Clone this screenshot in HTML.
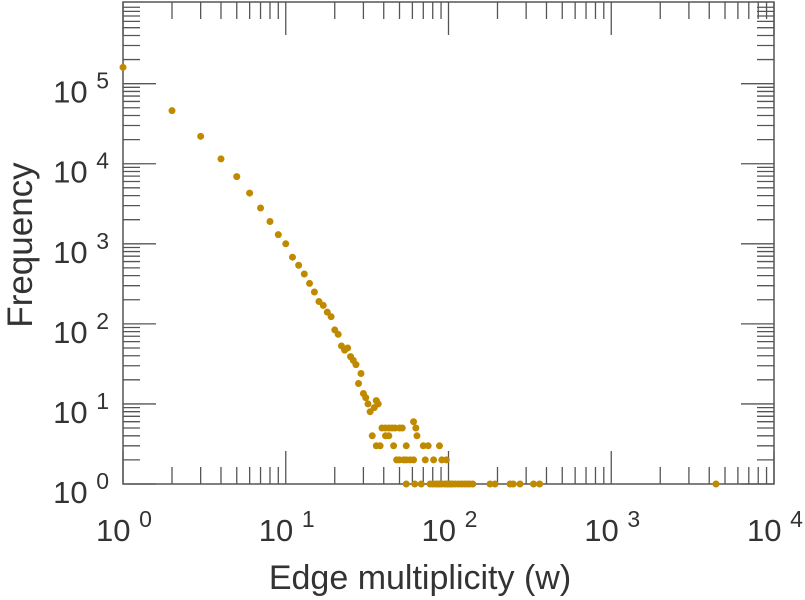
<!DOCTYPE html>
<html><head><meta charset="utf-8"><style>
html,body{margin:0;padding:0;background:#fff;}
svg{display:block;font-family:"Liberation Sans",sans-serif;}
</style></head><body>
<svg id="chart" width="805" height="600" viewBox="0 0 805 600" xmlns="http://www.w3.org/2000/svg">
<g id="axes"></g>
<g id="points"></g>
<text x="420" y="589" font-size="34" text-anchor="middle" fill="#333">Edge multiplicity (w)</text>
<text transform="translate(32,245) rotate(-90)" font-size="35" text-anchor="middle" fill="#333">Frequency</text>
</svg>
<script>
const xDecades = [0, 1, 2, 3, 4];
const yDecades = [0, 1, 2, 3, 4, 5];
const weights = [1,2,3,4,5,6,7,8,9,10,11,12,13,14,15,16,17,18,19,20,21,22,23,24,25,26,27,28,29,30,31,32,33,34,35,36,37,
  39,41,43,45,47,50,52, 61,63,64, 41,43, 36,38,46,55,70,75,88, 48,50,53,55,58,61,72,81,91,97,
  55,62,68,77,80,83,86,88,91,95,98,100,103,106,110,115,120,125,130,135,141,180,193,239,250,275,333,363,4400];
const freqs = [160000,46000,22000,11500,6900,4300,2800,1900,1300,1000,680,540,420,320,250,190,170,140,123,84,74,53,47,50,39,35,31,18,24,13.5,12,10,8,4,9,11,10,
  5,5,5,5,5,5,5, 6,5,4, 4,4, 3,3,3,3,3,3,3, 2,2,2,2,2,2,2,2,2,2,
  1,1,1,1,1,1,1,1,1,1,1,1,1,1,1,1,1,1,1,1,1,1,1,1,1,1,1,1,1];

const L=123,R=774,T=2,B=484;
const yTopLog = 6.02;
function xs(v){return L+(Math.log10(v)-0)/(4-0)*(R-L);}
function ys(v){return B-(Math.log10(v)-0)/(yTopLog-0)*(B-T);}
const NS="http://www.w3.org/2000/svg";
const axes=document.getElementById('axes');
const pts=document.getElementById('points');
function line(x1,y1,x2,y2,name){
  const l=document.createElementNS(NS,'line');
  l.setAttribute('x1',x1);l.setAttribute('y1',y1);l.setAttribute('x2',x2);l.setAttribute('y2',y2);
  l.setAttribute('stroke','#555');l.setAttribute('stroke-width','1.3');
  
  
  axes.appendChild(l);
}
const frame=document.createElementNS(NS,'rect');
frame.setAttribute('x',L);frame.setAttribute('y',T);frame.setAttribute('width',R-L);frame.setAttribute('height',B-T);
frame.setAttribute('fill','none');frame.setAttribute('stroke','#555');frame.setAttribute('stroke-width','1.5');


axes.appendChild(frame);

function label(x,y,exp,anchor,name){
  const t=document.createElementNS(NS,'text');
  t.setAttribute('x',x);t.setAttribute('y',y);t.setAttribute('font-size','31');t.setAttribute('fill','#333');
  t.setAttribute('text-anchor',anchor);
  
  
  const a=document.createElementNS(NS,'tspan');a.textContent='10 ';
  const b=document.createElementNS(NS,'tspan');b.textContent=exp;b.setAttribute('font-size','23');b.setAttribute('dy','-14');
  t.appendChild(a);t.appendChild(b);
  axes.appendChild(t);
}
xDecades.forEach((d,i)=>{
  const x=xs(Math.pow(10,d));
  line(x,B,x,B-33,'x-major-tick');line(x,T,x,T+33,'x-major-tick-top');
  label(x+1,541,String(d),'middle','x-tick-label');
  if(i<xDecades.length-1){
    for(let m=2;m<=9;m++){const xm=xs(m*Math.pow(10,d));
      line(xm,B,xm,B-17,'x-minor-tick');line(xm,T,xm,T+17,'x-minor-tick-top');}
  }
});
yDecades.forEach((d)=>{
  const y=ys(Math.pow(10,d));
  line(L,y,L+33,y,'y-major-tick');line(R,y,R-33,y,'y-major-tick-right');
  label(109,y+19,String(d),'end','y-tick-label');
  for(let m=2;m<=9;m++){const v=m*Math.pow(10,d);const ym=ys(v);
    if(ym<T)continue;
    line(L,ym,L+17,ym,'y-minor-tick');line(R,ym,R-17,ym,'y-minor-tick-right');}
});
weights.forEach((w,i)=>{
  const c=document.createElementNS(NS,'circle');
  c.setAttribute('cx',xs(w));c.setAttribute('cy',ys(freqs[i]));c.setAttribute('r','3.5');
  c.setAttribute('fill','#c08a00');
  
  
  pts.appendChild(c);
});
</script>
</body></html>
